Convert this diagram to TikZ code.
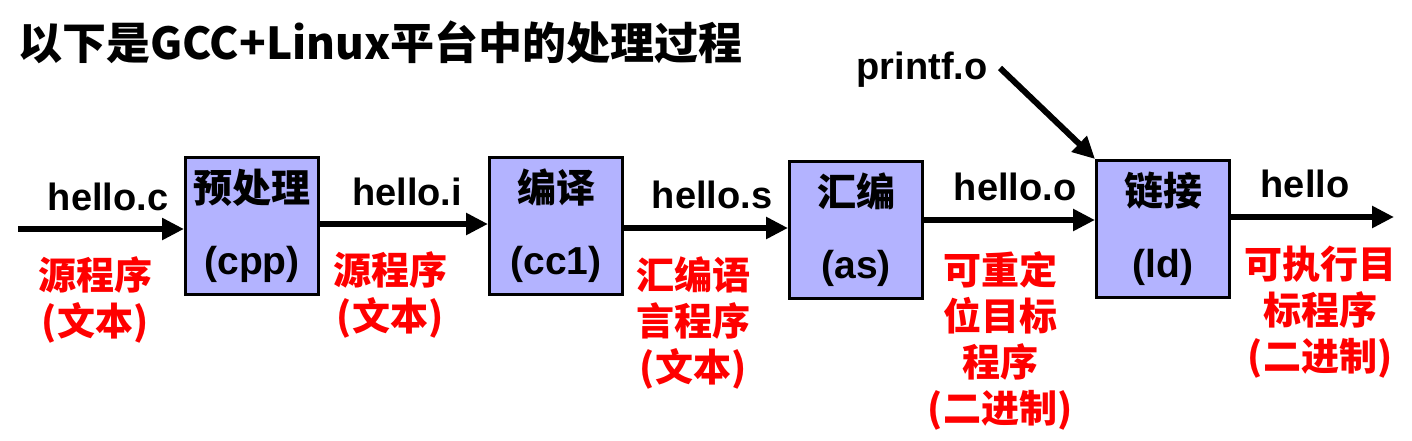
\documentclass[tikz,border=0pt]{standalone}
\usepackage{fontspec}
\setmainfont{Liberation Sans}
\newfontfamily\cjk{Noto Sans CJK SC}
\usetikzlibrary{arrows.meta,calc}
\definecolor{boxfill}{RGB}{179,179,255}
\definecolor{lblred}{RGB}{255,0,0}
\begin{document}
\begin{tikzpicture}[x=1pt,y=-1pt,
  proc/.style={draw=black,line width=3pt,fill=boxfill,minimum width=133pt,minimum height=137pt,
     inner sep=0pt,anchor=north west,align=center,font=\fontsize{39}{72}\selectfont\bfseries},
  flow/.style={line width=6pt,-{Triangle[length=22pt,width=21pt]}},
  fname/.style={anchor=base,font=\fontsize{38}{40}\selectfont\bfseries,inner sep=0pt},
  kind/.style={anchor=north,align=center,text=lblred,inner sep=0pt,font=\cjk\fontsize{38}{46}\selectfont\bfseries},
  ttl/.style={anchor=base west,inner sep=0pt,font=\cjk\fontsize{44}{48}\selectfont\bfseries}]
\useasboundingbox (0,0) rectangle (1412,441);
\node[ttl] (title) at (18,60) {以下是GCC+Linux平台中的处理过程};

\node[proc] (b1) at (184,156) {{\cjk 预处理}\\(cpp)};
\node[proc] (b2) at (488,156) {{\cjk 编译}\\(cc1)};
\node[proc] (b3) at (788,160) {{\cjk 汇编}\\(as)};
\node[proc] (b4) at (1095,159) {{\cjk 链接}\\(ld)};

\coordinate (in) at (18,229);
\coordinate (out) at (1394,217);
\coordinate (pfs) at (1000,68);

\draw[flow] (in) -- (in -| b1.west);
\draw[flow] (b1.east |- 0,224) -- (b2.west |- 0,224);
\draw[flow] (b2.east |- 0,228) -- (b3.west |- 0,228);
\draw[flow] (b3.east |- 0,220) -- (b4.west |- 0,220);
\draw[flow] (b4.east |- out) -- (out);
\draw[flow] (pfs) -- (b4.north west);

\node[fname] (f1) at (108,210) {hello.c};
\node[fname] (f2) at (407,205) {hello.i};
\node[fname] (f3) at (712,208) {hello.s};
\node[fname] (f4) at (1015,200) {hello.o};
\node[fname] (f5) at (1305,197) {hello};
\node[fname] (pf) at (922,80) {printf.o};

\node[kind] (k1) at (95,256) {源程序\\(文本)};
\node[kind] (k2) at (390,251) {源程序\\(文本)};
\node[kind] (k3) at (693,256) {汇编语\\言程序\\(文本)};
\node[kind] (k4) at (1000,251) {可重定\\位目标\\程序\\(二进制)};
\node[kind] (k5) at (1320,246) {可执行目\\标程序\\(二进制)};
\end{tikzpicture}
\end{document}
